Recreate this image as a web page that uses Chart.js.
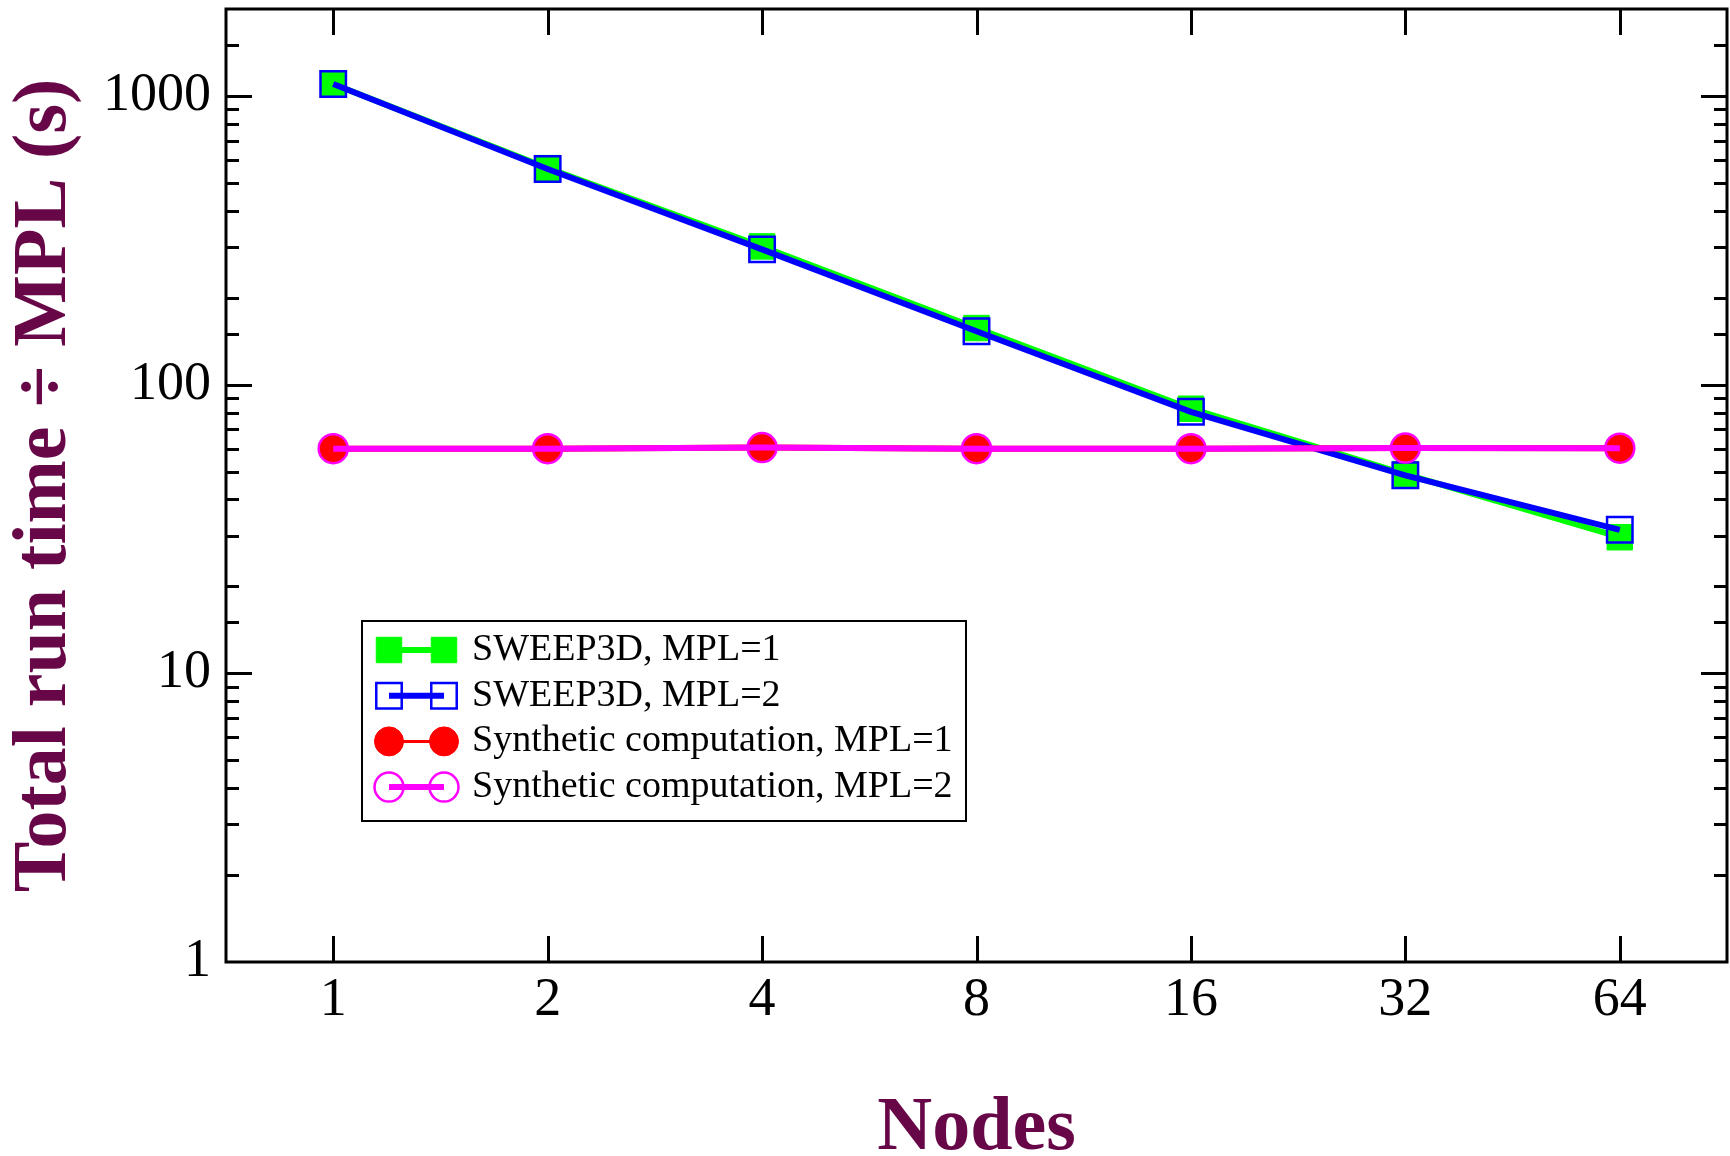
<!DOCTYPE html>
<html>
<head>
<meta charset="utf-8">
<script src="https://cdn.jsdelivr.net/npm/chart.js@4"></script>
<style>
  html, body { margin: 0; padding: 0; background: #fff; }
  canvas { display: block; }
</style>
</head>
<body>
<canvas id="chart" width="1730" height="1156"></canvas>
<script>
// data
const nodes = ['1', '2', '4', '8', '16', '32', '64'];
const sweepMpl1 = [1100, 562, 301, 157, 82.5, 49, 29.6];
const sweepMpl2 = [1100, 558, 294, 153, 80.5, 48.5, 31.4];
const synthMpl1 = [60, 60, 60.5, 60, 60, 60.3, 60.2];
const synthMpl2 = [60, 60, 60.5, 60, 60, 60.3, 60.2];
const yLabels = [1, 10, 100, 1000];

const seriesNames = [
  'SWEEP3D, MPL=1', 'SWEEP3D, MPL=2',
  'Synthetic computation, MPL=1', 'Synthetic computation, MPL=2'
];

const titleColor = '#670748';
const serif = "'Liberation Serif', 'Times New Roman', serif";

// frame + inward ticks on all four sides
const frameTicks = {
  id: 'frameTicks',
  beforeDatasetsDraw(chart) {
    const { ctx, chartArea: a, scales: { x, y } } = chart;
    ctx.save();
    ctx.strokeStyle = '#000';
    ctx.lineWidth = 3;
    ctx.strokeRect(a.left, a.top, a.right - a.left, a.bottom - a.top);

    y.ticks.forEach(t => {
      const v = t.value;
      if (v <= y.min || v >= y.max) return;
      const py = Math.round(y.getPixelForValue(v)) + 0.5;
      const len = Math.abs(Math.log10(v) - Math.round(Math.log10(v))) < 1e-6 ? 26 : 13;
      ctx.beginPath();
      ctx.moveTo(a.left, py); ctx.lineTo(a.left + len, py);
      ctx.moveTo(a.right, py); ctx.lineTo(a.right - len, py);
      ctx.stroke();
    });

    x.ticks.forEach((t, i) => {
      const px = Math.round(x.getPixelForTick(i)) + 0.5;
      ctx.beginPath();
      ctx.moveTo(px, a.bottom); ctx.lineTo(px, a.bottom - 26);
      ctx.moveTo(px, a.top); ctx.lineTo(px, a.top + 26);
      ctx.stroke();
    });
    ctx.restore();
  }
};

// boxed legend: line with a marker at each end
const boxLegend = {
  id: 'boxLegend',
  afterDraw(chart) {
    const ctx = chart.ctx;
    const box = { x: 362, y: 621, w: 604, h: 200 };
    ctx.save();
    ctx.fillStyle = '#fff';
    ctx.fillRect(box.x, box.y, box.w, box.h);
    ctx.strokeStyle = '#000';
    ctx.lineWidth = 2;
    ctx.strokeRect(box.x, box.y, box.w, box.h);

    chart.data.datasets.forEach((ds, i) => {
      const yy = 650 + i * 45.7;
      const x1 = 389, x2 = 444;
      ctx.strokeStyle = ds.borderColor;
      ctx.lineWidth = ds.legendLine;
      ctx.beginPath();
      ctx.moveTo(x1, yy); ctx.lineTo(x2, yy);
      ctx.stroke();

      ctx.fillStyle = ds.pointBackgroundColor;
      ctx.strokeStyle = ds.pointBorderColor;
      ctx.lineWidth = ds.pointBorderWidth;
      [x1, x2].forEach(px => {
        Chart.helpers.drawPoint(ctx, {
          pointStyle: ds.pointStyle,
          radius: ds.pointRadius,
          rotation: 0,
          borderWidth: ds.pointBorderWidth
        }, px, yy);
      });

      ctx.fillStyle = '#000';
      ctx.font = '38px ' + serif;
      ctx.textBaseline = 'middle';
      ctx.textAlign = 'left';
      ctx.fillText(ds.label, 472, yy);
    });
    ctx.restore();
  }
};

new Chart(document.getElementById('chart'), {
  type: 'line',
  data: {
    labels: nodes,
    datasets: [
      {
        label: seriesNames[0], data: sweepMpl1, order: 4,
        borderColor: '#00ff00', borderWidth: 6, legendLine: 6,
        pointStyle: 'rect', pointRadius: 18,
        pointBackgroundColor: '#00ff00', pointBorderColor: '#00ff00', pointBorderWidth: 1
      },
      {
        label: seriesNames[1], data: sweepMpl2, order: 3,
        borderColor: '#0000ff', borderWidth: 6, legendLine: 6,
        pointStyle: 'rect', pointRadius: 18,
        pointBackgroundColor: 'rgba(0,0,0,0)', pointBorderColor: '#0000ff', pointBorderWidth: 2.5
      },
      {
        label: seriesNames[2], data: synthMpl1, order: 2,
        borderColor: '#ff0000', borderWidth: 6, legendLine: 3,
        pointStyle: 'circle', pointRadius: 14.5,
        pointBackgroundColor: '#ff0000', pointBorderColor: '#ff0000', pointBorderWidth: 1
      },
      {
        label: seriesNames[3], data: synthMpl2, order: 1,
        borderColor: '#ff00ff', borderWidth: 6, legendLine: 6,
        pointStyle: 'circle', pointRadius: 14.5,
        pointBackgroundColor: 'rgba(0,0,0,0)', pointBorderColor: '#ff00ff', pointBorderWidth: 2.5
      }
    ]
  },
  options: {
    responsive: false,
    animation: false,
    devicePixelRatio: 1,
    layout: { autoPadding: false, padding: { top: 9, right: 3, left: 0, bottom: 0 } },
    elements: { line: { tension: 0 } },
    plugins: {
      legend: { display: false },
      tooltip: { enabled: false }
    },
    scales: {
      x: {
        type: 'category',
        offset: true,
        grid: { display: false, drawTicks: false },
        border: { display: false },
        ticks: {
          color: '#000', padding: 6, maxRotation: 0, autoSkip: false,
          font: { family: serif, size: 54 }
        },
        title: {
          display: true, text: 'Nodes', color: titleColor, padding: 0,
          font: { family: serif, size: 76, weight: 'bold', lineHeight: 0.7 }
        },
        afterFit(s) {
          s.height = 194;
          s.paddingLeft = 0;
          s.paddingRight = 0;
        }
      },
      y: {
        type: 'logarithmic',
        min: 1,
        max: 2000,
        grid: { display: false, drawTicks: false },
        border: { display: false },
        ticks: {
          color: '#000', padding: 15, autoSkip: false,
          font: { family: serif, size: 54 },
          callback: v => yLabels.includes(v) ? String(v) : ''
        },
        title: {
          display: true, text: 'Total run time ÷ MPL (s)', color: titleColor,
          padding: { top: 7, bottom: 0 },
          font: { family: serif, size: 76, weight: 'bold', lineHeight: 1 }
        },
        afterFit(s) {
          s.width = 226;
          s.paddingTop = 0;
          s.paddingBottom = 0;
        }
      }
    }
  },
  plugins: [frameTicks, boxLegend]
});
</script>
</body>
</html>
